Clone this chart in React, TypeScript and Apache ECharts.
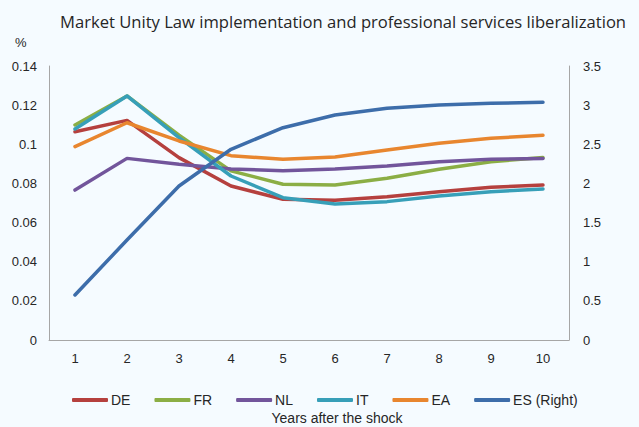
import React, { useEffect, useRef } from "react";
import * as echarts from "echarts";

const categories = ["1", "2", "3", "4", "5", "6", "7", "8", "9", "10"];
const leftTicks = [0, 0.02, 0.04, 0.06, 0.08, 0.1, 0.12, 0.14];
const rightTicks = [0, 0.5, 1, 1.5, 2, 2.5, 3, 3.5];

const DE = [0.1064, 0.1122, 0.0932, 0.0787, 0.0719, 0.0714, 0.0732, 0.0758, 0.078, 0.0792];
const FR = [0.1099, 0.1247, 0.1047, 0.0864, 0.0796, 0.0792, 0.0826, 0.0872, 0.0911, 0.0932];
const NL = [0.0766, 0.0928, 0.0898, 0.0874, 0.0865, 0.0874, 0.0889, 0.0911, 0.0923, 0.0927];
const IT = [0.1078, 0.1247, 0.1034, 0.0838, 0.0727, 0.0695, 0.0707, 0.0736, 0.0758, 0.0772];
const EA = [0.0988, 0.111, 0.1017, 0.0942, 0.0923, 0.0935, 0.0971, 0.1005, 0.1031, 0.1046];
const ES = [0.575, 1.277, 1.967, 2.436, 2.712, 2.874, 2.96, 3.002, 3.023, 3.036];

const seriesDefs = [
  { name: "DE", data: DE, color: "#B5403E", axis: 0 },
  { name: "FR", data: FR, color: "#8BAE45", axis: 0 },
  { name: "NL", data: NL, color: "#72559B", axis: 0 },
  { name: "IT", data: IT, color: "#379FB8", axis: 0 },
  { name: "EA", data: EA, color: "#E8862F", axis: 0 },
  { name: "ES (Right)", data: ES, color: "#3D6DAA", axis: 1 },
];

const BG = "#F5FBFF";
const AXIS_COLOR = "#A6A6A6";
const TEXT = "#262626";
const FONT = "'Liberation Sans', Arial, sans-serif";

export default function App() {
  const ref = useRef<HTMLDivElement>(null);
  useEffect(() => {
    if (!ref.current) return;
    const chart = echarts.init(ref.current, null, { renderer: "svg" });
    const axisCommon = {
      type: "value",
      splitNumber: 7,
      splitLine: { show: false },
      axisTick: { show: false },
      axisLine: { show: true, lineStyle: { color: AXIS_COLOR, width: 1 } },
    };
    chart.setOption({
      animation: false,
      backgroundColor: BG,
      textStyle: { fontFamily: FONT },
      title: {
        text: "Market Unity Law implementation and professional services liberalization",
        left: 55,
        top: 8,
        textStyle: { fontFamily: "'Open Sans', sans-serif", fontSize: 16.6, fontWeight: "normal", color: TEXT },
      },
      grid: { left: 49, right: 70, top: 66, bottom: 87, containLabel: false },
      legend: {
        left: 67,
        top: 388,
        itemWidth: 36,
        itemHeight: 4,
        itemGap: 24,
        icon: "roundRect",
        textStyle: { fontFamily: FONT, fontSize: 14, color: TEXT, padding: [0, 0, 0, -2] },
        data: seriesDefs.map((s) => s.name),
      },
      xAxis: {
        type: "category",
        data: categories,
        boundaryGap: true,
        axisTick: { show: false },
        axisLine: { show: true, lineStyle: { color: AXIS_COLOR, width: 1 } },
        axisLabel: { color: TEXT, fontSize: 13, margin: 12, fontFamily: FONT },
      },
      yAxis: [
        {
          ...axisCommon,
          min: leftTicks[0],
          max: leftTicks[leftTicks.length - 1],
          interval: leftTicks[1] - leftTicks[0],
          axisLabel: { color: TEXT, fontSize: 13, margin: 12, fontFamily: FONT, formatter: (v: number) => String(+v.toFixed(2)) },
        },
        {
          ...axisCommon,
          position: "right",
          min: rightTicks[0],
          max: rightTicks[rightTicks.length - 1],
          interval: rightTicks[1] - rightTicks[0],
          axisLabel: { color: TEXT, fontSize: 13, margin: 14, fontFamily: FONT, formatter: (v: number) => String(+v.toFixed(1)) },
        },
      ],
      graphic: [
        { type: "text", left: 15, top: 36, style: { text: "%", fontSize: 13, fill: TEXT, fontFamily: FONT } },
        {
          type: "text",
          x: 337,
          y: 418,
          style: { text: "Years after the shock", fontSize: 14, fill: TEXT, fontFamily: FONT, align: "center", verticalAlign: "middle" },
        },
      ],
      series: seriesDefs.map((s) => ({
        name: s.name,
        type: "line",
        yAxisIndex: s.axis,
        data: s.data,
        symbol: "none",
        color: s.color,
        lineStyle: { color: s.color, width: 3.5, cap: "round", join: "round" },
        z: s.axis === 1 ? 3 : 2,
      })),
    });
    return () => chart.dispose();
  }, []);
  return <div ref={ref} style={{ width: 639, height: 427, position: "absolute", left: 0, top: 0 }} />;
}
